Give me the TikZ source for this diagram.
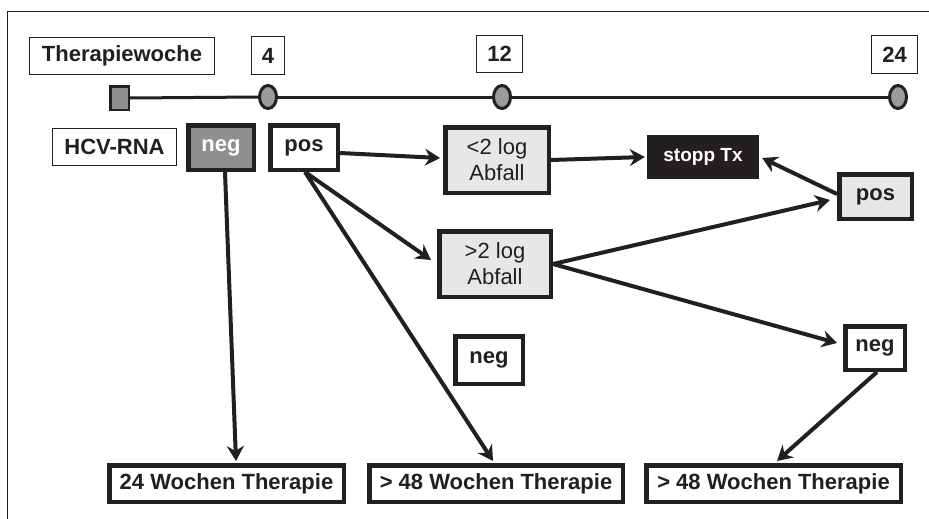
\documentclass[tikz,border=0pt]{standalone}
\usepackage{fontspec}
\setmainfont{Liberation Sans}
\usetikzlibrary{arrows.meta,calc,shapes.geometric}
\definecolor{ink}{HTML}{231F20}
\definecolor{midgray}{HTML}{8E8F91}
\definecolor{dotgray}{HTML}{9A9B9D}
\definecolor{lightgray}{HTML}{E6E7E8}
\begin{document}
\begin{tikzpicture}[x=1pt,y=-1pt,
  txt/.style={font=\bfseries\fontsize{22}{26}\selectfont, text=ink},
  thinbox/.style={txt, draw=ink, line width=1.3pt, inner sep=0pt, fill=white},
  thickbox/.style={txt, draw=ink, line width=4.5pt, inner sep=0pt, fill=white},
  logbox/.style={thickbox, fill=lightgray, font=\fontsize{22}{26}\selectfont, align=center},
  dot/.style={ellipse, draw=ink, line width=3pt, fill=dotgray, inner sep=0pt, minimum width=17pt, minimum height=23pt},
  arr/.style={draw=ink, line width=4pt, -{Stealth[length=15pt,width=17pt,inset=5pt]}}
]
\useasboundingbox (0,0) rectangle (929,519);
% frame (top and left only)
\draw[ink, line width=1pt] (7,519) -- (7,12) -- (929,12);

% week labels
\node[thinbox, minimum width=185pt, minimum height=37pt] (tw) at (122,56) {Therapiewoche};
\node[thinbox, minimum width=33pt, minimum height=38pt] (w4) at (268,55.5) {4};
\node[thinbox, minimum width=46pt, minimum height=37pt] (w12) at (499.5,54) {12};
\node[thinbox, minimum width=46pt, minimum height=38pt] (w24) at (894.5,54.5) {24};

% timeline
\node[draw=ink, line width=2.5pt, fill=midgray, inner sep=0pt, minimum width=18.5pt, minimum height=23.5pt] (t0) at (119.5,98) {};
\node[dot] (t4) at (268,97) {};
\node[dot] (t12) at (502,97) {};
\node[dot] (t24) at (898,97) {};
\draw[ink, line width=3pt] (t0.east) -- (t4.west);
\draw[ink, line width=3pt] (t4.east) -- (t12.west);
\draw[ink, line width=3pt] (t12.east) -- (t24.west);

% week 4
\node[thinbox, minimum width=124pt, minimum height=37pt] (hcv) at (114.5,147) {HCV-RNA};
\node[thickbox, fill=midgray, text=white, minimum width=65.5pt, minimum height=44.5pt] (negA) at (221,147.5) {neg};
\node[thickbox, minimum width=67.5pt, minimum height=44.5pt] (posA) at (304,147.5) {pos};

% week 12
\node[logbox, minimum width=103.5pt, minimum height=65.5pt] (lt2) at (497,160) {<2 log\\Abfall};
\node[logbox, minimum width=111.5pt, minimum height=65.5pt] (gt2) at (495,264) {>2 log\\Abfall};
\node[thickbox, minimum width=67.5pt, minimum height=47.5pt] (negM) at (489,360) {neg};

% week 24
\node[txt, fill=ink, text=white, font=\bfseries\fontsize{19}{22}\selectfont, inner sep=0pt, minimum width=112pt, minimum height=44pt] (stop) at (703,157) {stopp Tx};
\node[thickbox, fill=lightgray, minimum width=72.5pt, minimum height=44.5pt] (posB) at (875.5,196.5) {pos};
\node[thickbox, minimum width=59.5pt, minimum height=43.5pt] (negB) at (875,348) {neg};

% outcomes
\node[thickbox, minimum width=234.5pt, minimum height=36.5pt] (b1) at (226.5,483.5) {24 Wochen Therapie};
\node[thickbox, minimum width=253.5pt, minimum height=36.5pt] (b2) at (496,483.5) {> 48 Wochen Therapie};
\node[thickbox, minimum width=254.5pt, minimum height=36.5pt] (b3) at (773.5,483.5) {> 48 Wochen Therapie};

% connectors
\draw[arr] ($(negA.south)+(4,0)$) -- ($(b1.north)+(9.5,-2)$);
\draw[arr] ($(posA.east)+(0,5.5)$) -- ($(lt2.west)+(-3,-2)$);
\draw[arr] ($(posA.south)+(1,0)$) -- ($(gt2.west)+(-6,-4)$);
\draw[arr] ($(posA.south)+(1,0)$) -- ($(b2.north)+(-3,-2)$);
\draw[arr] (lt2.east) -- ($(stop.west)+(-2,0)$);
\draw[arr] ($(posB.west)+(0,-2.5)$) -- ($(stop.east)+(3,1)$);
\draw[arr] (gt2.east) -- ($(posB.west)+(-7,3.5)$);
\draw[arr] (gt2.east) -- ($(negB.west)+(-6,-5)$);
\draw[arr] ($(negB.south)+(2,0)$) -- ($(b3.north)+(3.5,-2)$);
\end{tikzpicture}
\end{document}
